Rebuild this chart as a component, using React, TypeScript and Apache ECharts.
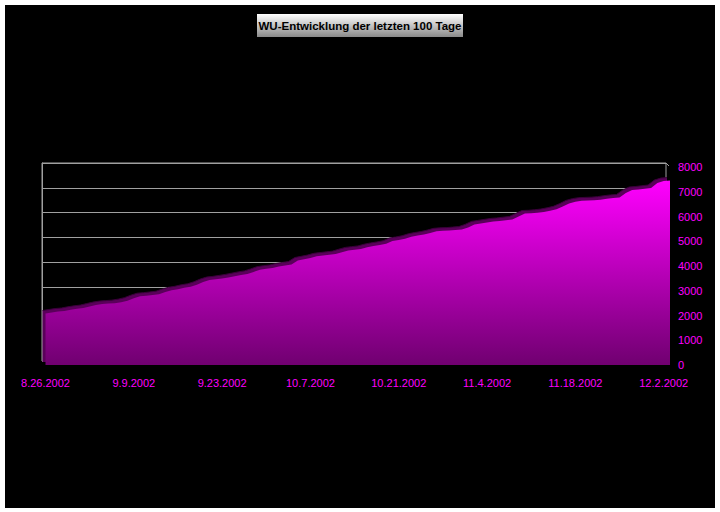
import React, { useEffect, useRef } from "react";
import * as echarts from "echarts";

const titleText = "WU-Entwicklung der letzten 100 Tage";
const startDate = [2002, 8, 26];
const dayCount = 100;
const labelEvery = 14;
const yTicks = [0, 1000, 2000, 3000, 4000, 5000, 6000, 7000, 8000];
const wuValues = [
  2080, 2120, 2160, 2180, 2230, 2270, 2300, 2360, 2420, 2460,
  2480, 2500, 2540, 2600, 2700, 2780, 2800, 2830, 2860, 2950,
  3020, 3060, 3120, 3160, 3240, 3350, 3430, 3460, 3500, 3540,
  3590, 3640, 3680, 3760, 3850, 3890, 3920, 3980, 4020, 4060,
  4220, 4270, 4320, 4390, 4420, 4450, 4480, 4560, 4630, 4660,
  4690, 4760, 4810, 4850, 4900, 5010, 5050, 5100, 5180, 5230,
  5270, 5330, 5400, 5420, 5430, 5450, 5470, 5560, 5680, 5720,
  5760, 5800, 5820, 5850, 5880, 6000, 6120, 6130, 6150, 6180,
  6230, 6290, 6400, 6530, 6600, 6640, 6650, 6660, 6680, 6720,
  6750, 6770, 6950, 7070, 7090, 7120, 7150, 7350, 7430, 7450,
];

function buildCategories(): string[] {
  const out: string[] = [];
  const d = new Date(startDate[0], startDate[1] - 1, startDate[2]);
  for (let i = 0; i < dayCount; i++) {
    out.push(`${d.getMonth() + 1}.${d.getDate()}.${d.getFullYear()}`);
    d.setDate(d.getDate() + 1);
  }
  return out;
}

export default function App() {
  const ref = useRef<HTMLDivElement>(null);
  useEffect(() => {
    document.body.style.margin = "0";
    if (!ref.current) return;
    const chart = echarts.init(ref.current, undefined, { renderer: "svg" });
    const categories = buildCategories();
    const yMin = yTicks[0];
    const yMax = yTicks[yTicks.length - 1];
    const yInterval = yTicks[1] - yTicks[0];
    const font = "Liberation Sans, Arial, sans-serif";
    const hiddenCat = (gridIndex: number) => ({
      gridIndex,
      type: "category",
      data: categories,
      boundaryGap: false,
      axisLine: { show: false },
      axisTick: { show: false },
      axisLabel: { show: false },
      splitLine: { show: false },
    });
    const hiddenVal = (gridIndex: number) => ({
      gridIndex,
      type: "value",
      min: yMin,
      max: yMax,
      interval: yInterval,
      axisLine: { show: false },
      axisTick: { show: false },
      axisLabel: { show: false },
      splitLine: { show: false },
    });
    chart.setOption({
      animation: false,
      backgroundColor: "transparent",
      grid: [
        {
          left: 42,
          right: 54,
          top: 163,
          bottom: 151,
          show: true,
          borderColor: "#a0a0a0",
          borderWidth: 1,
          backgroundColor: "transparent",
        },
        { left: 45.5, right: 50, top: 167, bottom: 147 },
        { left: 42.5, right: 53, top: 164, bottom: 150 },
      ],
      xAxis: [
        hiddenCat(0),
        {
          gridIndex: 1,
          type: "category",
          data: categories,
          boundaryGap: false,
          axisLine: { show: false },
          axisTick: { show: false },
          axisLabel: {
            interval: (i: number) => i % labelEvery === 0,
            color: "#ff00ff",
            fontSize: 11,
            fontFamily: font,
            margin: 12,
            hideOverlap: false,
          },
          splitLine: { show: false },
        },
        hiddenCat(2),
      ],
      yAxis: [
        {
          gridIndex: 0,
          type: "value",
          min: yMin,
          max: yMax,
          interval: yInterval,
          axisLine: { show: true, lineStyle: { color: "#a0a0a0" } },
          axisTick: { show: false },
          axisLabel: { show: false },
          splitLine: { show: true, lineStyle: { color: "#a0a0a0", width: 1 } },
        },
        {
          gridIndex: 1,
          type: "value",
          position: "right",
          min: yMin,
          max: yMax,
          interval: yInterval,
          axisLine: { show: false },
          axisTick: { show: false },
          splitLine: { show: false },
          axisLabel: {
            color: "#ff00ff",
            fontSize: 11,
            fontFamily: font,
            margin: 8,
            align: "left",
            formatter: (v: number) => String(v),
          },
        },
        hiddenVal(2),
      ],
      series: [
        {
          type: "line",
          xAxisIndex: 2,
          yAxisIndex: 2,
          data: wuValues,
          showSymbol: false,
          symbol: "none",
          lineStyle: { color: "#3a003a", width: 1 },
          areaStyle: { color: "#5a005a", opacity: 1 },
          z: 3,
        },
        {
          type: "line",
          xAxisIndex: 1,
          yAxisIndex: 1,
          data: wuValues,
          showSymbol: false,
          symbol: "none",
          lineStyle: { width: 0 },
          areaStyle: {
            opacity: 1,
            color: new echarts.graphic.LinearGradient(0, 0, 0, 1, [
              { offset: 0, color: "#ff00ff" },
              { offset: 1, color: "#700070" },
            ]),
          },
          z: 4,
        },
      ],
      graphic: [
        {
          type: "line",
          shape: { x1: 666, y1: 163, x2: 669, y2: 166 },
          style: { stroke: "#a0a0a0", lineWidth: 1 },
          z: 1,
        },
        {
          type: "group",
          left: 257,
          top: 14,
          children: [
            {
              type: "rect",
              shape: { x: 0, y: 0, width: 206, height: 23 },
              style: {
                fill: new echarts.graphic.LinearGradient(0, 0, 0, 1, [
                  { offset: 0, color: "#ffffff" },
                  { offset: 1, color: "#8a8a8a" },
                ]),
              },
            },
            {
              type: "text",
              x: 103,
              y: 11.5,
              style: {
                text: titleText,
                fill: "#000000",
                font: `bold 11.5px ${font}`,
                align: "center",
                verticalAlign: "middle",
              },
            },
          ],
        },
      ],
    });
    return () => chart.dispose();
  }, []);
  return (
    <div style={{ position: "relative", width: 720, height: 512, background: "#ffffff" }}>
      <div style={{ position: "absolute", left: 5, top: 5, width: 710, height: 503, background: "#000000" }} />
      <div ref={ref} style={{ position: "absolute", left: 0, top: 0, width: 720, height: 512 }} />
    </div>
  );
}
